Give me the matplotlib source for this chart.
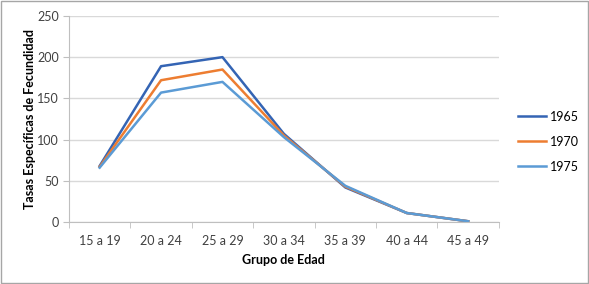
import matplotlib.pyplot as plt
import numpy as np

grupos = ['15 a 19', '20 a 24', '25 a 29', '30 a 34', '35 a 39', '40 a 44', '45 a 49']
tasas_1965 = [68, 189, 200, 107, 42, 11, 1]
tasas_1970 = [67, 172, 185, 105, 43, 11, 1]
tasas_1975 = [66, 157, 170, 103, 44, 11, 1]

plt.rcParams['font.family'] = ['Lato', 'DejaVu Sans']

fig = plt.figure(figsize=(5.89, 2.84), dpi=100)
ax = fig.add_axes([0.117, 0.218, 0.730, 0.726])

x = np.arange(len(grupos))
ax.plot(x, tasas_1965, color='#3464B4', lw=1.8, label='1965')
ax.plot(x, tasas_1970, color='#ED7D31', lw=1.8, label='1970')
ax.plot(x, tasas_1975, color='#5B9BD5', lw=1.8, label='1975')

ax.set_xlim(-0.5, len(grupos) - 0.5)
ax.set_ylim(0, 250)
ax.set_yticks(range(0, 251, 50))
ax.set_xticks(x)
ax.set_xticklabels(grupos)
ax.set_xticks(np.arange(-0.5, len(grupos)), minor=True)
ax.tick_params(axis='x', which='major', length=0, pad=9)
ax.tick_params(axis='x', which='minor', length=4, color='#BFBFBF', direction='out')
ax.tick_params(axis='y', length=4, color='#BFBFBF', pad=3)
ax.tick_params(labelsize=9, labelcolor='#404040')

ax.grid(axis='y', color='#D9D9D9', lw=1)
ax.set_axisbelow(True)
for s in ['top', 'right']:
    ax.spines[s].set_visible(False)
for s in ['left', 'bottom']:
    ax.spines[s].set_color('#BFBFBF')

ax.set_xlabel('Grupo de Edad', fontsize=9, fontweight='bold', labelpad=5)
ax.set_ylabel('Tasas Específicas de Fecundidad', fontsize=9, fontweight='bold', labelpad=1)

ax.legend(loc='center left', bbox_to_anchor=(1.045, 0.39), frameon=False, fontsize=9,
          handlelength=2.2, handletextpad=0.3, labelspacing=1.05,
          borderpad=0, borderaxespad=0)

fig.patches.append(plt.Rectangle((0.001, 0.002), 0.997, 0.995, transform=fig.transFigure,
                                 fill=False, edgecolor='#A6A6A6', lw=1))

fig.savefig('out.png', dpi=100)
